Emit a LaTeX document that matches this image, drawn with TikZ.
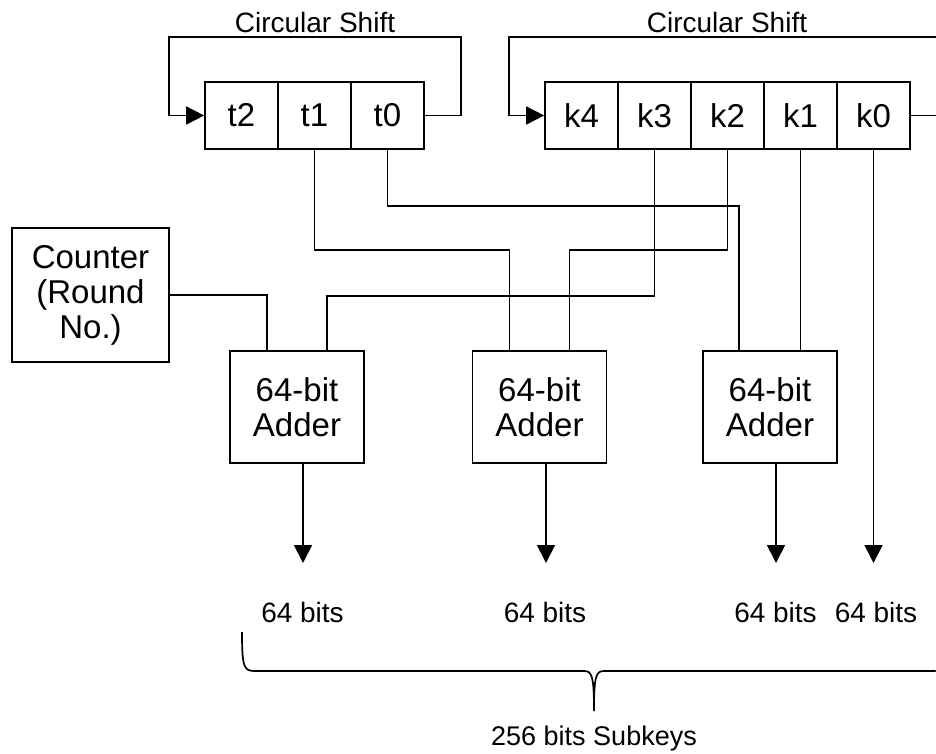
\documentclass[tikz,border=0pt]{standalone}
\usepackage{fontspec}
\setmainfont{Liberation Sans}
\usetikzlibrary{arrows.meta}
\begin{document}
\begin{tikzpicture}[x=1pt,y=-1pt, line width=1.7pt,
  cell/.style={draw, minimum width=73pt, minimum height=67pt, inner sep=0pt, font=\fontsize{33}{35}\selectfont},
  blk/.style={draw, inner sep=0pt, align=center, font=\fontsize{33}{35}\selectfont},
  lbl/.style={font=\fontsize{28}{30}\selectfont, inner sep=0pt},
  arr/.style={-{Triangle[length=18pt,width=18pt]}}]
\useasboundingbox (0,0) rectangle (936,753);
\clip (0,0) rectangle (936,753);

% registers
\node[cell] (t2) at (241.5,115.5) {t2};
\node[cell] (t1) at (314.5,115.5) {t1};
\node[cell] (t0) at (387.5,115.5) {t0};
\node[cell] (k4) at (581.5,115.5) {k4};
\node[cell] (k3) at (654.5,115.5) {k3};
\node[cell] (k2) at (727.5,115.5) {k2};
\node[cell] (k1) at (800.5,115.5) {k1};
\node[cell] (k0) at (873.5,115.5) {k0};

\node[lbl] (cs1) at (315,22) {Circular Shift};
\node[lbl] (cs2) at (727,22) {Circular Shift};

% counter and adders
\node[blk, minimum width=157pt, minimum height=134pt] (cnt) at (90.5,295) {Counter\\(Round\\No.)};
\node[blk, minimum width=134pt, minimum height=112pt] (a1) at (297,407) {64-bit\\Adder};
\node[blk, minimum width=134pt, minimum height=112pt] (a2) at (539.5,407) {64-bit\\Adder};
\node[blk, minimum width=134pt, minimum height=112pt] (a3) at (770,407) {64-bit\\Adder};

% circular shift loops
\coordinate (lt1) at (461,37);
\coordinate (lt2) at (169,37);
\draw[arr] (t0.east) -- (t0.east -| lt1) -- (lt1) -- (lt2) -- (lt2 |- t2.west) -- (t2.west);
\coordinate (rt1) at (965,37);
\coordinate (rt2) at (509,37);
\draw[arr] (k0.east) -- (k0.east -| rt1) -- (rt1) -- (rt2) -- (rt2 |- k4.west) -- (k4.west);

% wiring
\draw (cnt.east) -| ([xshift=-30pt]a1.north);
\draw (k3.south) -- ++(0,146) -| ([xshift=30pt]a1.north);
\draw (t1.south) -- ++(0,100) -| ([xshift=-30pt]a2.north);
\draw (k2.south) -- ++(0,100) -| ([xshift=30pt]a2.north);
\draw (t0.south) -- ++(0,56) -| ([xshift=-31pt]a3.north);
\draw (k1.south) -- (k1.south |- a3.north);

% outputs
\coordinate (o1) at (303,563);
\coordinate (o2) at (546,563);
\coordinate (o3) at (776,563);
\coordinate (o4) at (873.5,563);
\draw[arr] (a1.south -| o1) -- (o1);
\draw[arr] (a2.south -| o2) -- (o2);
\draw[arr] (a3.south -| o3) -- (o3);
\draw[arr] (k0.south) -- (o4);

\node[lbl] (b1) at (302.5,612) {64 bits};
\node[lbl] (b2) at (545,612) {64 bits};
\node[lbl] (b3) at (775.5,612) {64 bits};
\node[lbl] (b4) at (876,612) {64 bits};

% brace
\coordinate (tip) at (594,711);
\draw (242,632) .. controls (242,668) and (244,671) .. (255,671) -- (584,671)
  .. controls (592,671) and (594,676) .. (tip)
  .. controls (594,676) and (596,671) .. (604,671) -- (933,671)
  .. controls (944,671) and (946,668) .. (946,632);
\node[lbl, anchor=base, font=\fontsize{27}{30}\selectfont] (sub) at (594,745) {256 bits Subkeys};
\end{tikzpicture}
\end{document}
